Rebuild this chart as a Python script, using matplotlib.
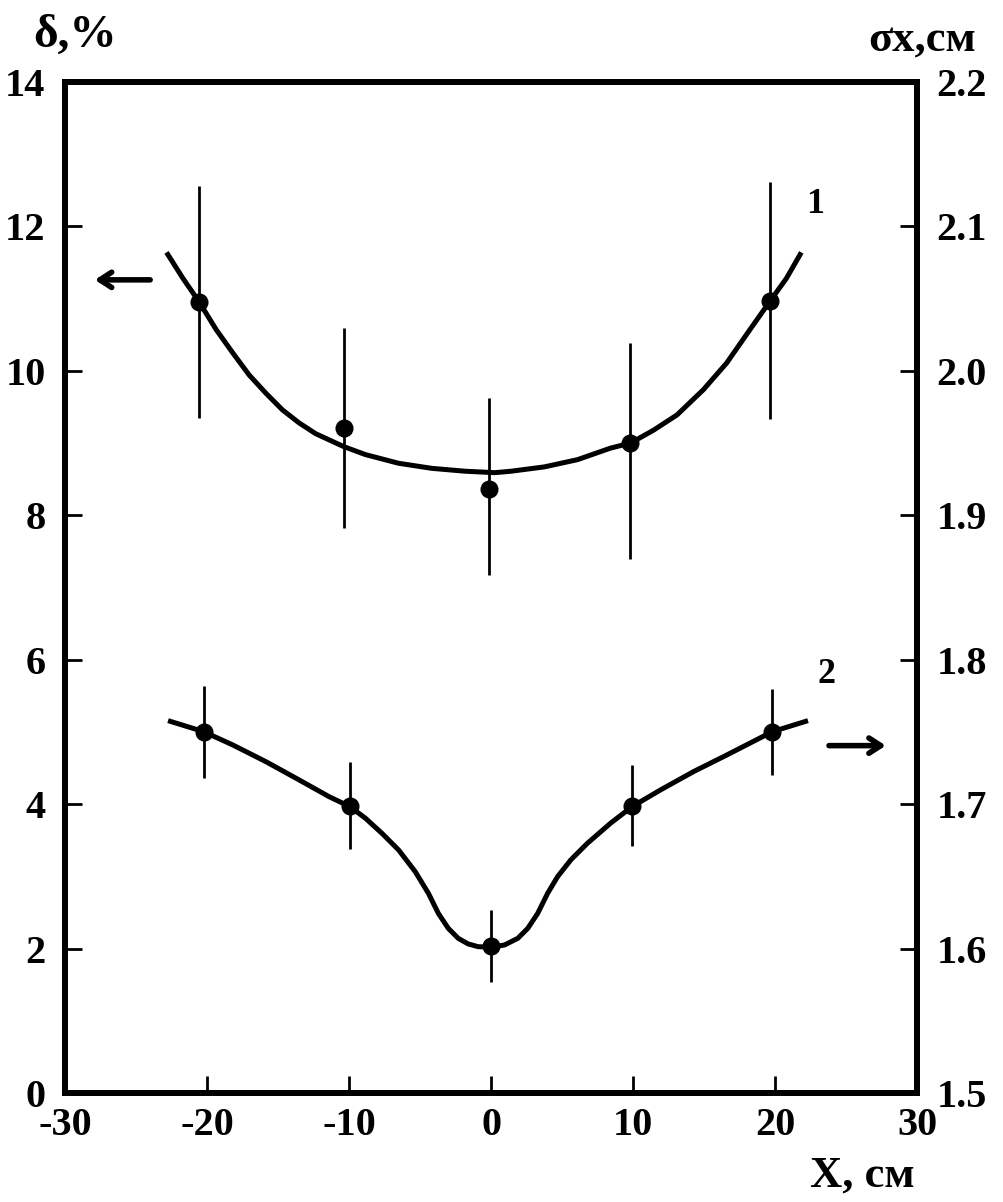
import numpy as np
import matplotlib
matplotlib.use('Agg')
import matplotlib.pyplot as plt

plt.rcParams['font.family'] = ['Liberation Serif', 'DejaVu Serif']
plt.rcParams['font.weight'] = 'bold'
plt.rcParams['axes.unicode_minus'] = False

# curve 1 (left axis, delta %)
x1_pts = [-20.56, -10.36, -0.16, 9.78, 19.63]
y1_pts = [10.96, 9.21, 8.37, 9.00, 10.97]
y1_err_lo = [1.62, 1.38, 1.20, 1.60, 1.64]
y1_err_hi = [1.60, 1.39, 1.25, 1.39, 1.65]
x1_fit = [-22.85, -21.69, -20.57, -19.35, -18.19, -17.02, -15.85, -14.69, -13.52,
          -12.35, -10.36, -8.84, -6.51, -4.18, -1.84, 0.26, 1.42, 3.76, 6.09,
          8.42, 9.83, 11.46, 13.1, 14.96, 16.6, 18.23, 19.63, 20.8, 21.85]
y1_fit = [11.64, 11.28, 10.96, 10.57, 10.25, 9.94, 9.69, 9.46, 9.28,
          9.13, 8.95, 8.84, 8.72, 8.65, 8.61, 8.59, 8.61, 8.67, 8.77,
          8.93, 9.00, 9.18, 9.39, 9.74, 10.11, 10.57, 10.96, 11.28, 11.64]

# curve 2 (right axis, sigma_x cm)
x2_pts = [-20.24, -9.94, 0.02, 9.94, 19.82]
y2_pts = [1.750, 1.699, 1.602, 1.699, 1.750]
y2_err = [0.032, 0.030, 0.025, 0.028, 0.030]
x2_fit = [-22.74, -20.24, -18.19, -15.85, -13.52, -11.41, -9.94, -8.84, -7.68,
          -6.51, -5.34, -4.41, -3.71, -3.01, -2.31, -1.61, -0.91, 0.02, 0.96,
          1.89, 2.59, 3.29, 3.99, 4.69, 5.62, 6.79, 8.42, 9.94, 11.93, 14.26,
          16.6, 19.82, 22.32]
y2_fit = [1.7578, 1.7502, 1.7410, 1.7294, 1.7168, 1.7052, 1.6983, 1.6902, 1.6798,
          1.6683, 1.6533, 1.6383, 1.6244, 1.6140, 1.6071, 1.6032, 1.6013, 1.6009, 1.6025,
          1.6071, 1.6140, 1.6244, 1.6383, 1.6498, 1.6614, 1.6729, 1.6868, 1.6983, 1.7098, 1.7225,
          1.7340, 1.7502, 1.7578]

x_ticks = [-30, -20, -10, 0, 10, 20, 30]
left_ticks = [0, 2, 4, 6, 8, 10, 12, 14]
right_ticks = [1.5, 1.6, 1.7, 1.8, 1.9, 2.0, 2.1, 2.2]

fs = 29
fig = plt.figure(figsize=(10.04, 12.02), dpi=100)
ax = fig.add_axes([0.0647, 0.0907, 0.8487, 0.8411])
ax2 = ax.twinx()

ax.errorbar(x1_pts, y1_pts, yerr=[y1_err_lo, y1_err_hi], fmt='o', color='black',
            markersize=12, elinewidth=2, capsize=0, zorder=3)
ax.plot(x1_fit, y1_fit, color='black', lw=3.6, solid_joinstyle='round',
        solid_capstyle='butt')

ax2.errorbar(x2_pts, y2_pts, yerr=y2_err, fmt='o', color='black',
             markersize=12, elinewidth=2, capsize=0, zorder=3)
ax2.plot(x2_fit, y2_fit, color='black', lw=3.6, solid_joinstyle='round',
         solid_capstyle='butt')

ax.set_xlim(-30, 30)
ax.set_ylim(0, 14)
ax2.set_ylim(1.5, 2.2)
ax.set_xticks(x_ticks)
ax.set_yticks(left_ticks)
ax2.set_yticks(right_ticks)
ax.set_xticklabels([str(v) for v in x_ticks])
ax.set_yticklabels([str(v) for v in left_ticks])
ax2.set_yticklabels([f'{v:.1f}' for v in right_ticks])

for a in (ax, ax2):
    for s in a.spines.values():
        s.set_linewidth(4.3)
ax.tick_params(axis='both', direction='in', length=12, width=2, labelsize=fs)
ax.tick_params(axis='x', pad=10)
ax.tick_params(axis='y', pad=14)
ax2.tick_params(axis='y', direction='in', length=12, width=2, labelsize=fs, pad=14)
for lbl in ax.get_xticklabels() + ax.get_yticklabels() + ax2.get_yticklabels():
    lbl.set_fontweight('bold')

# curve labels and arrows
ax.text(22.8, 12.3, '1', fontsize=26, fontweight='bold', ha='center', va='center')
ax.text(23.6, 5.79, '2', fontsize=26, fontweight='bold', ha='center', va='center')
arrow = dict(arrowstyle='->,head_length=0.85,head_width=0.55', lw=4, color='black',
             shrinkA=0, shrinkB=0)
ax.annotate('', xy=(-27.9, 11.26), xytext=(-24.0, 11.26), arrowprops=arrow)
ax.annotate('', xy=(27.8, 4.81), xytext=(23.8, 4.81), arrowprops=arrow)

# axis titles
fig.text(0.033, 0.961, 'δ,%', fontsize=34, fontweight='bold', ha='left', va='baseline')
fig.text(0.8645, 0.958, 'σx,см', fontsize=32, fontweight='bold', ha='left', va='baseline')
fig.text(0.8068, 0.0125, 'X, см', fontsize=32, fontweight='bold', ha='left', va='baseline')

fig.savefig('out.png', dpi=100)
